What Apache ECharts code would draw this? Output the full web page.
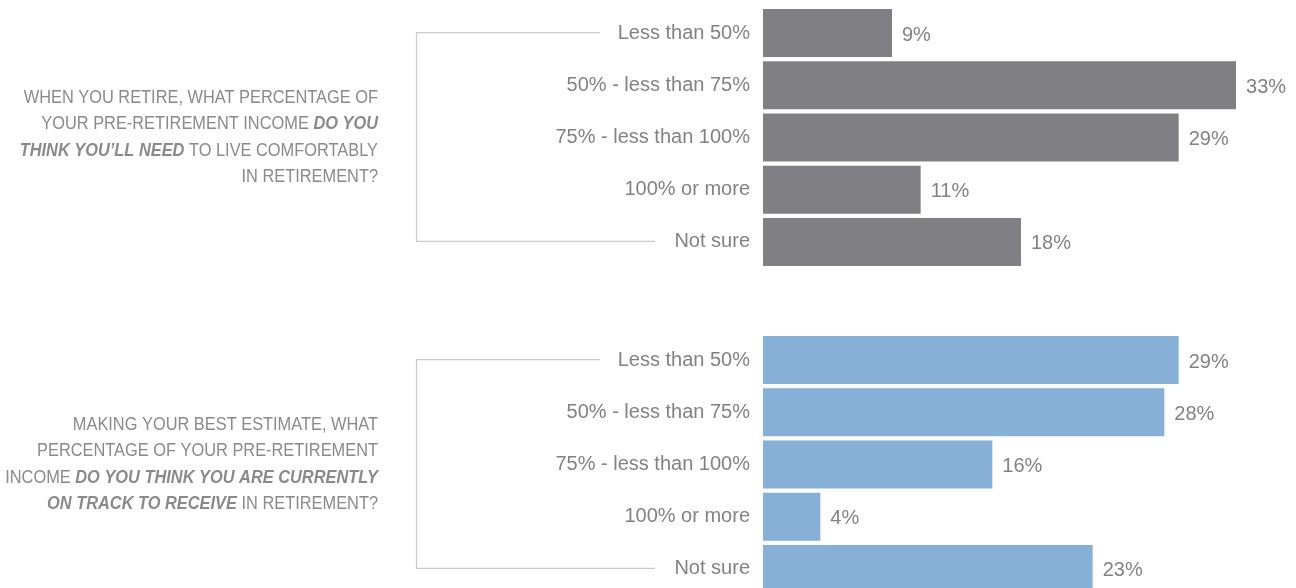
<!DOCTYPE html>
<html><head><meta charset="utf-8">
<script src="https://cdn.jsdelivr.net/npm/echarts@6/dist/echarts.min.js"></script>
<style>html,body{margin:0;padding:0;background:#fff}#c{width:1296px;height:588px}</style>
</head><body><div id="c"></div>
<script>
const categories = ['Less than 50%', '50% - less than 75%', '75% - less than 100%', '100% or more', 'Not sure'];
const needValues = [9, 33, 29, 11, 18];
const trackValues = [29, 28, 16, 4, 23];
const question1Lines = [
  'WHEN YOU RETIRE, WHAT PERCENTAGE OF',
  'YOUR PRE-RETIREMENT INCOME {b|DO YOU}',
  '{b|THINK YOU\u2019LL NEED} TO LIVE COMFORTABLY',
  'IN RETIREMENT?'
];
const question2Lines = [
  'MAKING YOUR BEST ESTIMATE, WHAT',
  'PERCENTAGE OF YOUR PRE-RETIREMENT',
  'INCOME {b|DO YOU THINK YOU ARE CURRENTLY}',
  '{b|ON TRACK TO RECEIVE} IN RETIREMENT?'
];

const GRAY = '#807f84', BLUE = '#86b0d6';
const TEXT = '#828282', QTEXT = '#8a8a8a', LINE = '#c9c9c9';
const LFONT = "'Liberation Sans', sans-serif";

const chart = echarts.init(document.getElementById('c'), null, {renderer: 'canvas'});

function yAxis(i) {
  return {
    type: 'category', gridIndex: i, data: categories, inverse: true,
    axisLine: {show: false}, axisTick: {show: false}, splitLine: {show: false},
    axisLabel: {margin: 13, color: TEXT, fontSize: 20, fontFamily: LFONT}
  };
}
function xAxis(i) {
  return {type: 'value', gridIndex: i, min: 0, max: 35, show: false};
}
function series(i, data, color) {
  return {
    type: 'bar', xAxisIndex: i, yAxisIndex: i, data: data, barWidth: 48,
    itemStyle: {color: color}, silent: true,
    label: {show: true, position: 'right', distance: 10, offset: [0, 2],
      formatter: '{c}%', color: TEXT, fontSize: 20, fontFamily: LFONT}
  };
}

chart.setOption({
  animation: false,
  grid: [
    {left: 763, top: 7, width: 501.67, height: 261, outerBoundsMode: 'none'},
    {left: 763, top: 334, width: 501.67, height: 261, outerBoundsMode: 'none'}
  ],
  xAxis: [xAxis(0), xAxis(1)],
  yAxis: [yAxis(0), yAxis(1)],
  series: [series(0, needValues, GRAY), series(1, trackValues, BLUE)]
});

const graphics = [];
[[0, question1Lines], [1, question2Lines]].forEach(([g, lines]) => {
  const yTop = chart.convertToPixel({gridIndex: g}, [0, categories[0]])[1];
  const yBot = chart.convertToPixel({gridIndex: g}, [0, categories[categories.length - 1]])[1];
  graphics.push({
    type: 'polyline', silent: true,
    shape: {points: [[600, yTop - 0.5], [416.5, yTop - 0.5], [416.5, yBot - 0.5], [655, yBot - 0.5]]},
    style: {stroke: LINE, lineWidth: 1.2, fill: null}
  });
  graphics.push({
    type: 'text', silent: true, x: 378, y: (yTop + yBot) / 2, scaleX: 0.91,
    style: {
      text: lines.join('\n'), align: 'right', verticalAlign: 'middle',
      fill: QTEXT, fontSize: 18, lineHeight: 26.5, fontFamily: LFONT,
      rich: {b: {fontStyle: 'italic', fontWeight: 'bold', fill: QTEXT, fontSize: 18, lineHeight: 26.5, fontFamily: LFONT}}
    }
  });
});
chart.setOption({graphic: graphics});
</script>
</body></html>
